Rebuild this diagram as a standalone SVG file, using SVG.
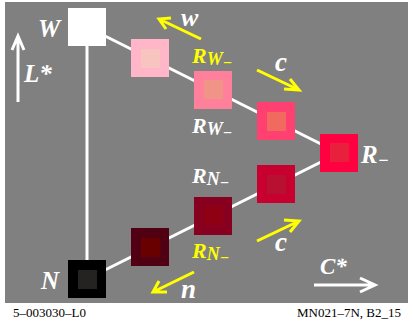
<svg xmlns="http://www.w3.org/2000/svg" width="413" height="331" viewBox="0 0 413 331">
<defs>
<style>
.lab{font-family:"Liberation Serif","Times New Roman",serif;font-style:italic;font-weight:bold;fill:#ffffff}
.yl{fill:#ffff00}
.foot{font-family:"Liberation Serif","Times New Roman",serif;font-size:13px;fill:#000000}
.ln{stroke:#ffffff;stroke-width:3;fill:none}
.ya{stroke:#ffff00;stroke-width:3;fill:none;stroke-linecap:butt}
.wa{stroke:#ffffff;stroke-width:3;fill:none}
</style>
</defs>
<rect x="0" y="0" width="413" height="331" fill="#ffffff"/>
<rect x="5" y="2" width="403" height="301" fill="#808080"/>
<g id="connectors">
<line class="ln" x1="87" y1="45" x2="87" y2="260"/>
<line class="ln" x1="87" y1="27" x2="339" y2="153"/>
<line class="ln" x1="87" y1="279" x2="339" y2="153"/>
</g>
<g id="W"><rect x="68" y="8" width="38" height="38" fill="#ffffff"/></g>
<g id="s1"><rect x="131" y="39" width="38" height="38" fill="#ffb6c8"/><rect x="141" y="49" width="19" height="19" fill="#f8c4bf"/></g>
<g id="RW2"><rect x="194" y="71" width="38" height="38" fill="#ff809a"/><rect x="204" y="80" width="19" height="19" fill="#f09488"/></g>
<g id="s3"><rect x="257" y="102" width="38" height="38" fill="#ff4070"/><rect x="267" y="112" width="19" height="19" fill="#f06a60"/></g>
<g id="R"><rect x="320" y="134" width="38" height="38" fill="#ff0040"/><rect x="330" y="143" width="19" height="19" fill="#e8203c"/></g>
<g id="s5"><rect x="257" y="165" width="38" height="38" fill="#c80030"/><rect x="267" y="175" width="19" height="19" fill="#b81030"/></g>
<g id="RN2"><rect x="194" y="197" width="38" height="38" fill="#880020"/><rect x="204" y="206" width="19" height="19" fill="#900014"/></g>
<g id="s7"><rect x="131" y="228" width="38" height="38" fill="#500012"/><rect x="141" y="238" width="19" height="19" fill="#680000"/></g>
<g id="N"><rect x="68" y="260" width="38" height="38" fill="#000000"/><rect x="78" y="270" width="19" height="19" fill="#252222"/></g>
<g id="arrows">
<path class="wa" d="M18,102 V36 M12,50 L18,36 L24,50"/>
<path class="wa" d="M314,285 H375 M360,278 L375,285 L360,292"/>
<path class="ya" d="M201,39 L159,19 M171,18 L159,19 L166,29"/>
<path class="ya" d="M257,70 L299,90 M284,89 L299,90 L290,79"/>
<path class="ya" d="M257,241 L299,221 M290,232 L299,221 L284,220"/>
<path class="ya" d="M194,272 L153,292 M159,281 L153,292 L167,292"/>
</g>
<g id="labels">
<text class="lab" x="38" y="37" font-size="25">W</text>
<text class="lab" x="24" y="82" font-size="25">L*</text>
<text class="lab" x="41" y="289" font-size="25">N</text>
<text class="lab" x="181" y="26" font-size="26">w</text>
<text class="lab" x="275" y="71" font-size="27">c</text>
<text class="lab" x="275" y="251" font-size="27">c</text>
<text class="lab" x="181" y="298" font-size="27">n</text>
<text class="lab" x="320" y="274" font-size="23">C*</text>
<text class="lab" x="361" y="163" font-size="25">R<tspan font-size="18" dy="3">−</tspan></text>
<text class="lab yl" x="192" y="63" font-size="22">R<tspan font-size="18" dy="2">W</tspan><tspan font-size="16" dy="3">−</tspan></text>
<text class="lab" x="192" y="133" font-size="22">R<tspan font-size="18" dy="2">W</tspan><tspan font-size="16" dy="3">−</tspan></text>
<text class="lab" x="192" y="183" font-size="22">R<tspan font-size="18" dy="2">N</tspan><tspan font-size="16" dy="3">−</tspan></text>
<text class="lab yl" x="192" y="258" font-size="22">R<tspan font-size="18" dy="2">N</tspan><tspan font-size="16" dy="3">−</tspan></text>
</g>
<text class="foot" x="13" y="317">5–003030–L0</text>
<text class="foot" x="401" y="317" text-anchor="end">MN021–7N, B2_15</text>
</svg>
